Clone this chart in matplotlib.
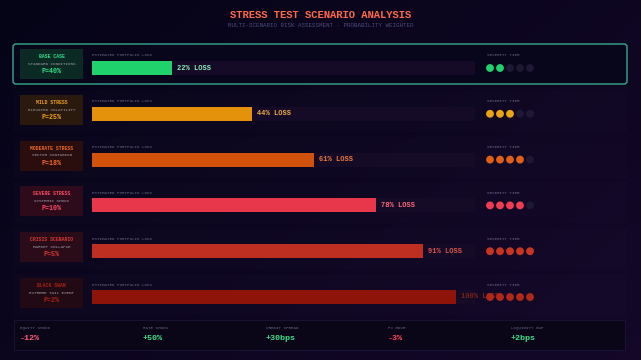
import numpy as np
import matplotlib
matplotlib.use('Agg')
import matplotlib.pyplot as plt
from matplotlib.patches import FancyBboxPatch, Rectangle

# Szenarien
names = ['BASE CASE', 'MILD STRESS', 'MODERATE STRESS', 'SEVERE STRESS', 'CRISIS SCENARIO', 'BLACK SWAN']
subtitles = ['STANDARD CONDITIONS', 'ELEVATED VOLATILITY', 'SECTOR CONTAGION', 'SYSTEMIC SHOCK',
             'MARKET COLLAPSE', 'EXTREME TAIL EVENT']
probabilities = [40, 25, 18, 10, 5, 2]
losses = [22, 44, 61, 78, 91, 100]
severity = [2, 3, 4, 4, 5, 5]

# Schock-Kennzahlen unten
shock_labels = ['EQUITY SHOCK', 'RATE SHOCK', 'CREDIT SPREAD', 'FX MOVE', 'LIQUIDITY GAP']
shock_values = ['-12%', '+50%', '+30bps', '-3%', '+2bps']

bar_colors = ['#1fd26c', '#e4920c', '#d2520c', '#e8374a', '#be2f22', '#8e1409']
dot_colors = ['#22d070', '#eaa418', '#df5e18', '#f03c52', '#c83422', '#b22818']
card_colors = ['#0b2a24', '#2a1a0e', '#2a0e0e', '#2e0b1a', '#2a0b18', '#220a14']
name_colors = ['#2fe08a', '#f0a020', '#f06a2a', '#ff4a62', '#d83a34', '#a82216']
label_colors = ['#8ff0b8', '#f0b040', '#f07a3a', '#ff6a78', '#e0544a', '#7a2418']
shock_colors = ['#ff5a78', '#3ee08c', '#3ee08c', '#ff4a5a', '#3ee08c']

W, H = 641, 360
fig = plt.figure(figsize=(W / 100, H / 100), dpi=100)

# Hintergrund
bg = fig.add_axes([0, 0, 1, 1])
bg.set_xlim(0, W)
bg.set_ylim(H, 0)
bg.axis('off')
gx = np.linspace(0, 1, 200)
gy = np.linspace(0, 1, 120)
GX, GY = np.meshgrid(gx, gy)
grad = 0.6 * GX + 0.4 * GY
c0 = np.array([0.02, 0.016, 0.09])
c1 = np.array([0.08, 0.03, 0.16])
img = c0 + (c1 - c0) * grad[..., None]
bg.imshow(img, extent=(0, W, H, 0), aspect='auto', zorder=0)

mono = 'Liberation Mono'
bg.text(W / 2, 15, 'STRESS TEST SCENARIO ANALYSIS', color='#ff6a48', fontsize=7.6,
        fontweight='bold', family=mono, ha='center', va='center')
bg.text(W / 2, 25.5, 'MULTI-SCENARIO RISK ASSESSMENT · PROBABILITY WEIGHTED', color='#4a4a78',
        fontsize=4.2, family=mono, ha='center', va='center')

row_y0 = 68
row_step = 45.8

for i in range(len(names)):
    cy = row_y0 + i * row_step
    if i == 0:
        bg.add_patch(FancyBboxPatch((13, cy - 24), 614, 40, boxstyle='round,pad=0,rounding_size=3',
                                    fc='#07061a', ec='#3aa890', lw=1.0, zorder=1))
    else:
        bg.add_patch(Rectangle((13, cy - 23), 614, 41, fc='#ffffff', alpha=0.012, ec='none', zorder=1))
    # Karte links
    bg.add_patch(Rectangle((20, cy - 19), 63, 30, fc=card_colors[i], ec='none', zorder=2))
    bg.text(51.5, cy - 11.5, names[i], color=name_colors[i], fontsize=3.4, fontweight='bold',
            family=mono, ha='center', va='center', zorder=3)
    bg.text(51.5, cy - 4.2, subtitles[i], color='#a09aa8', fontsize=3.1,
            family=mono, ha='center', va='center', zorder=3)
    bg.text(51.5, cy + 3.5, f'P={probabilities[i]}%', color=name_colors[i], fontsize=4.8,
            fontweight='bold', family=mono, ha='center', va='center', zorder=3)
    bg.text(92, cy - 12.5, 'ESTIMATED PORTFOLIO LOSS', color='#6a6888', fontsize=3,
            family=mono, ha='left', va='center', zorder=3)
    bg.text(487, cy - 12.5, 'SEVERITY TIER', color='#6a6888', fontsize=3,
            family=mono, ha='left', va='center', zorder=3)

# Balken
top_px = row_y0 - row_step / 2
bot_px = row_y0 + row_step * (len(names) - 0.5)
ax = fig.add_axes([92 / W, 1 - bot_px / H, (475 - 92) / W, (bot_px - top_px) / H])
ax.set_xlim(0, 105.2)
ax.set_ylim(len(names) - 0.5, -0.5)
ax.axis('off')
ax.patch.set_alpha(0)
rows = np.arange(len(names))
bh = 14 / row_step
ax.barh(rows, [105.2] * len(names), height=bh, color='#150b26', zorder=1)
ax.barh(rows, losses, height=bh, color=bar_colors, zorder=2)
for i, v in enumerate(losses):
    ax.annotate(f'{v}% LOSS', (v, i), xytext=(3.5, 0), textcoords='offset points',
                color=label_colors[i], fontsize=5, fontweight='bold',
                family=mono, va='center', ha='left', zorder=3)

# Schweregrad-Punkte
dax = fig.add_axes([485 / W, 1 - bot_px / H, 50 / W, (bot_px - top_px) / H])
dax.set_xlim(-0.5, 4.5)
dax.set_ylim(len(names) - 0.5, -0.5)
dax.axis('off')
dax.patch.set_alpha(0)
for i, s in enumerate(severity):
    cols = [dot_colors[i] if k < s else '#1e1834' for k in range(5)]
    dax.scatter(range(5), [i] * 5, s=32, c=cols, linewidths=0, zorder=3)

# Schock-Panel
bg.add_patch(Rectangle((14, 320), 611, 30, fc='#0a0618', ec='#1a1230', lw=0.8, zorder=1))
xs = [20, 143, 266, 388, 511]
for x, lab, val, col in zip(xs, shock_labels, shock_values, shock_colors):
    bg.text(x, 328, lab, color='#6a6888', fontsize=3, family=mono, ha='left', va='center', zorder=3)
    bg.text(x, 338.5, val, color=col, fontsize=6, fontweight='bold', family=mono,
            ha='left', va='center', zorder=3)

fig.savefig('out.png', dpi=100, facecolor='#06041a')
